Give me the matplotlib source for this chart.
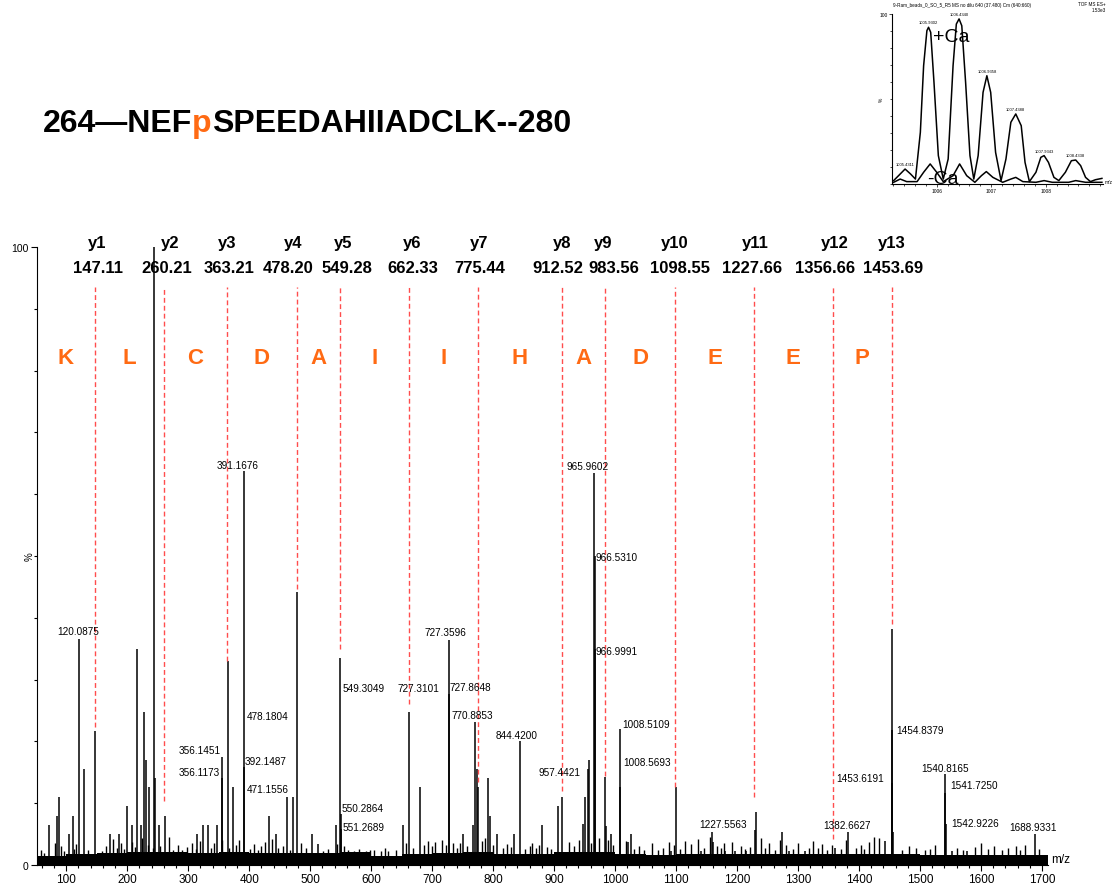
import matplotlib
matplotlib.use("Agg")
import matplotlib.pyplot as plt
from matplotlib.ticker import MultipleLocator

plt.rcParams["font.family"] = ["Liberation Sans", "DejaVu Sans"]

ORANGE = "#ff6a13"
DASH_RED = "#ff4d4d"

# peptide header, the phospho site drawn in orange
SEQ_LEFT = "264\u2014NEF"
SEQ_MOD = "p"
SEQ_RIGHT = "SPEEDAHIIADCLK--280"

# y-ion ladder
ion_names = ["y1", "y2", "y3", "y4", "y5", "y6", "y7", "y8", "y9", "y10", "y11", "y12", "y13"]
ion_mz = [147.11, 260.21, 363.21, 478.20, 549.28, 662.33, 775.44, 912.52,
          983.56, 1098.55, 1227.66, 1356.66, 1453.69]
ion_line_low = [22.3, 10.4, 33.0, 44.7, 35.0, 26.0, 13.4, 12.0, 14.4, 12.6, 11.0, 4.2, 39.0]
residues = ["K", "L", "C", "D", "A", "I", "I", "H", "A", "D", "E", "E", "P"]

# main fragment peaks (m/z, relative intensity %)
peak_mz = [72, 85, 88.5, 105, 111, 120.0875, 129.5, 138, 147.5, 172,
           187, 200, 208, 216, 223, 228, 230, 236, 244, 246,
           252, 262, 315, 325, 333, 347, 356.1173, 356.1451, 365.5, 374,
           391.1676, 392.1487, 433, 444, 462, 471.1556, 478.1804, 503, 513, 542.6,
           549.3049, 550.2864, 551.2689, 652, 662.3, 680, 727.3596, 727.8648, 751, 767,
           770.8853, 773.5, 776, 792, 795, 806.5, 834, 844.42, 880, 906.5,
           913, 947.5, 951, 955, 957.4421, 965.9602, 966.531, 966.9991, 983.6, 985,
           993, 1008.5109, 1008.5693, 1021, 1026, 1092, 1100, 1129.5, 1141, 1159,
           1161, 1180, 1197, 1215, 1229, 1231, 1274, 1285, 1311, 1361,
           1382.6627, 1442.6, 1453.6191, 1454.2, 1454.8379, 1455.8, 1533, 1540.8165, 1541.725, 1542.9226,
           1552, 1577, 1683, 1688.9331]
peak_int = [6.5, 8, 11, 5, 8, 36.6, 15.5, 1.8, 21.7, 5,
            5, 9.5, 6.5, 35, 6.5, 24.7, 17, 12.6, 100, 14,
            6.5, 8, 5, 6.5, 6.5, 6.5, 14, 17.5, 33, 12.6,
            63.8, 15.8, 8, 5, 11, 11, 44.2, 5, 3.4, 6.5,
            33.5, 8.3, 5.8, 6.5, 24.7, 12.6, 36.4, 27.7, 5, 6.5,
            23.1, 15.5, 12.6, 14, 8, 5, 5, 20, 6.5, 9.5,
            11, 6.6, 11, 15.5, 17, 63.5, 50, 35, 14.2, 6.3,
            5, 22, 12.6, 3.7, 5, 2.3, 12.6, 1, 2.3, 5.3,
            3.7, 2.3, 2.3, 2.3, 5.7, 8.5, 5.3, 2.3, 2.3, 2.8,
            5.3, 3.9, 13.3, 38.2, 21.8, 5.3, 1, 14.7, 11.6, 6.6,
            2.3, 2.3, 1, 5]

# small noise spikes above the baseline
noise_mz = [58, 63, 82, 91, 97, 112, 116, 135, 152, 158,
            165, 177, 183, 189, 195, 207, 213, 224, 234, 242,
            254, 268, 275, 284, 290, 298, 307, 313, 319, 337,
            342, 355, 367, 378, 384, 402, 408, 414, 420, 426,
            438, 447, 456, 467, 485, 493, 521, 530, 544, 556,
            562, 572, 580, 592, 598, 604, 616, 622, 627, 640,
            657, 669, 686, 693, 699, 705, 716, 722, 734, 740,
            746, 758, 781, 787, 800, 817, 823, 829, 853, 860,
            864, 870, 876, 888, 895, 924, 933, 941, 961, 973,
            988, 997, 1018, 1031, 1040, 1048, 1061, 1070, 1078, 1088,
            1097, 1107, 1115, 1124, 1136, 1146, 1155, 1167, 1173, 1179,
            1191, 1206, 1213, 1221, 1239, 1246, 1252, 1262, 1270, 1280,
            1292, 1300, 1318, 1324, 1333, 1340, 1348, 1355, 1370, 1379,
            1395, 1403, 1409, 1417, 1424, 1433, 1470, 1482, 1494, 1508,
            1516, 1524, 1560, 1570, 1590, 1600, 1612, 1621, 1635, 1645,
            1657, 1664, 1672, 1695]
noise_int = [2.4, 2.0, 3.6, 3.0, 2.2, 2.6, 3.4, 2.5, 2.0, 2.2,
             3.1, 4.2, 2.8, 3.5, 2.6, 3.8, 2.9, 4.4, 3.2, 2.7,
             3.0, 4.6, 2.5, 3.3, 2.4, 2.9, 3.6, 2.6, 3.9, 2.8,
             3.5, 4.1, 2.7, 3.2, 4.0, 2.6, 3.4, 2.5, 3.0, 3.8,
             4.2, 2.7, 3.1, 2.4, 3.6, 2.8, 2.3, 2.6, 3.4, 3.0,
             2.4, 2.2, 2.6, 2.3, 2.5, 2.4, 2.2, 2.7, 2.3, 2.5,
             3.6, 2.8, 3.3, 3.9, 3.0, 3.7, 4.0, 3.2, 3.5, 2.8,
             3.6, 3.1, 3.9, 4.3, 3.2, 2.7, 3.4, 2.9, 2.6, 3.0,
             3.5, 2.8, 3.3, 2.9, 2.6, 3.7, 3.1, 4.0, 3.6, 4.4,
             4.1, 3.3, 3.9, 2.6, 3.0, 2.5, 3.6, 2.4, 2.7, 3.8,
             3.3, 2.6, 3.9, 3.4, 4.2, 2.8, 4.6, 3.0, 2.7, 3.5,
             3.8, 3.1, 2.6, 2.9, 4.3, 2.7, 3.6, 2.5, 4.0, 3.2,
             2.6, 3.5, 2.8, 3.9, 2.7, 3.4, 2.5, 3.2, 2.6, 4.1,
             2.8, 3.3, 2.6, 3.7, 4.5, 4.4, 2.5, 3.0, 2.7, 2.4,
             2.6, 3.2, 2.7, 2.4, 2.9, 3.5, 2.6, 3.1, 2.5, 2.8,
             3.0, 2.4, 3.2, 2.6]

# baseline noise floor, level per 50 m/z bin
floor_mz = [52, 100, 150, 200, 250, 300, 350, 400, 450, 500, 550,
            600, 650, 700, 750, 800, 850, 900, 950, 1000, 1050,
            1100, 1150, 1200, 1250, 1300, 1350, 1400, 1450, 1500, 1550,
            1600, 1650, 1710]
floor_int = [1.4, 1.7, 1.9, 2.1, 2.1, 1.9, 2.1, 1.9, 2.0, 1.9, 2.1,
             1.4, 1.8, 1.9, 2.1, 1.8, 1.8, 2.1, 2.1, 1.8, 1.6,
             1.7, 1.8, 1.8, 1.8, 1.8, 1.8, 1.7, 1.8, 1.6, 1.6,
             1.6, 1.6, 1.6]

# annotated peak labels and the peak each one sits by
label_text = ["120.0875", "356.1173", "356.1451", "391.1676", "392.1487", "471.1556",
              "478.1804", "549.3049", "550.2864", "551.2689", "727.3101", "727.3596",
              "727.8648", "770.8853", "844.4200", "957.4421", "965.9602", "966.5310",
              "966.9991", "1008.5109", "1008.5693", "1227.5563", "1382.6627", "1453.6191",
              "1454.8379", "1540.8165", "1541.7250", "1542.9226", "1688.9331"]
label_at = [120.0875, 356.1173, 356.1451, 391.1676, 392.1487, 471.1556,
            478.1804, 549.3049, 550.2864, 551.2689, 662.3, 727.3596,
            727.8648, 770.8853, 844.42, 957.4421, 965.9602, 966.531,
            966.9991, 1008.5109, 1008.5693, 1159, 1382.6627, 1453.6191,
            1454.8379, 1540.8165, 1541.725, 1542.9226, 1688.9331]

# label placement: pixel offset from peak top and alignment
label_layout = {
    "120.0875": (0, 8, "center"), "356.1173": (-3, 6, "right"),
    "356.1451": (-2, 7, "right"), "391.1676": (-6, 6, "center"),
    "392.1487": (0, 6, "left"), "471.1556": (-4, 8, "right"),
    "478.1804": (-8, -124, "right"), "549.3049": (2, -30, "left"),
    "550.2864": (1, 6, "left"), "551.2689": (1, 2, "left"),
    "727.3101": (9, 24, "center"), "727.3596": (-3, 8, "center"),
    "727.8648": (0, 7, "left"), "770.8853": (-3, 7, "center"),
    "844.4200": (-4, 6, "center"), "957.4421": (-9, -12, "right"),
    "965.9602": (-7, 7, "center"), "966.5310": (1, -1, "left"),
    "966.9991": (1, -2, "left"), "1008.5109": (2, 5, "left"),
    "1008.5693": (3, 25, "left"), "1227.5563": (11, 8, "center"),
    "1382.6627": (-1, 7, "center"), "1453.6191": (-8, 5, "right"),
    "1454.8379": (4, 0, "left"), "1540.8165": (0, 6, "center"),
    "1541.7250": (5, 8, "left"), "1542.9226": (5, 1, "left"),
    "1688.9331": (-2, 7, "center"),
}
# horizontal nudges (pixels) of the ion names and masses above the plot
ion_name_dx = [2, 6, 0, -4, 3, 3, 1, 0, -2, 0, 1, 2, 0]
ion_value_dx = [3, 3, 2, -9, 7, 4, 2, -4, 9, 5, -2, -7, 1]

# inset: isotope envelope with and without calcium
ca_mz = [1005.21, 1005.30, 1005.42, 1005.52, 1005.61, 1005.70, 1005.76, 1005.82, 1005.85, 1005.89,
         1005.95, 1006.03, 1006.12, 1006.21, 1006.30, 1006.36, 1006.41, 1006.46, 1006.53, 1006.61,
         1006.68, 1006.76, 1006.85, 1006.92, 1006.99, 1007.08, 1007.18, 1007.27, 1007.36, 1007.45,
         1007.55, 1007.62, 1007.70, 1007.82, 1007.91, 1007.97, 1008.05, 1008.15, 1008.24, 1008.36,
         1008.47, 1008.55, 1008.64, 1008.73, 1008.82, 1008.91, 1009.03]
ca_int = [2.0, 4.9, 8.8, 5.9, 2.9, 30.4, 69.6, 90.2, 92.2, 89.2,
          59.8, 16.7, 2.9, 14.7, 69.6, 94.1, 97.1, 93.1, 59.8, 16.7,
          2.9, 16.7, 53.9, 63.7, 53.9, 18.6, 2.0, 14.7, 36.3, 41.2,
          34.3, 12.7, 1.4, 6.9, 15.7, 16.7, 12.7, 3.9, 2.0, 6.9,
          13.7, 14.1, 10.8, 3.9, 1.4, 2.5, 3.3]
noca_mz = [1005.21, 1005.33, 1005.45, 1005.64, 1005.76, 1005.88, 1006.00, 1006.12, 1006.30, 1006.42,
           1006.55, 1006.70, 1006.82, 1006.91, 1007.03, 1007.21, 1007.36, 1007.45, 1007.58, 1007.82,
           1007.97, 1008.12, 1008.42, 1008.55, 1008.73, 1009.03]
noca_int = [1.0, 2.9, 1.4, 1.4, 6.9, 11.8, 6.9, 1.4, 4.9, 11.8,
            4.9, 1.0, 4.9, 7.3, 3.9, 1.0, 2.9, 3.9, 1.4, 1.0,
            2.0, 1.0, 1.0, 2.0, 1.0, 1.0]
inset_label_mz = [1005.42, 1005.85, 1006.41, 1006.92, 1007.45, 1007.97, 1008.55]
inset_label_int = [8.8, 92.2, 97.1, 63.7, 41.2, 16.7, 14.1]
inset_label_text = ["1005.4311", "1005.9302", "1006.4340", "1006.9358", "1007.4388", "1007.9343", "1008.4338"]


def main():
    fig = plt.figure(figsize=(11.2, 8.95), dpi=100)

    # ---- header text with coloured phospho residue
    renderer = fig.canvas.get_renderer()
    x = 43 / 1120
    y = 1 - 132 / 895
    for part, col in [(SEQ_LEFT, "black"), (SEQ_MOD, ORANGE), (SEQ_RIGHT, "black")]:
        t = fig.text(x, y, part, fontsize=23, fontweight="bold", color=col,
                     ha="left", va="baseline")
        bb = t.get_window_extent(renderer=renderer)
        x = bb.x1 / fig.bbox.width

    # ---- main spectrum
    ax = fig.add_axes([37 / 1120, 29 / 895, 1011 / 1120, 618 / 895])
    ax.set_xlim(52, 1710)
    ax.set_ylim(0, 100)

    ax.fill_between(floor_mz, 0, floor_int, step="post", color="black", lw=0)
    ax.vlines(noise_mz, 0, noise_int, colors="black", lw=1.0)
    ax.vlines(peak_mz, 0, peak_int, colors="black", lw=1.1)

    for txt, at in zip(label_text, label_at):
        dx, dy, ha = label_layout[txt]
        top = peak_int[peak_mz.index(at)]
        ax.annotate(txt, xy=(at, top), xytext=(dx, dy), textcoords="offset pixels",
                    ha=ha, va="center", fontsize=7.2, color="black")

    # ion ladder: dashed markers, names and masses
    ax.vlines(ion_mz, ion_line_low, 93.5, colors=DASH_RED, lw=1.0,
              linestyles=(0, (3.5, 2.2)))
    xy_axes = ("data", "axes fraction")
    for name, mz, ndx, vdx in zip(ion_names, ion_mz, ion_name_dx, ion_value_dx):
        ax.annotate(name, xy=(mz, 1.008), xycoords=xy_axes, xytext=(ndx, 0),
                    textcoords="offset pixels", ha="center", va="center",
                    fontsize=12, fontweight="bold", annotation_clip=False)
        ax.annotate(f"{mz:.2f}", xy=(mz, 0.9676), xycoords=xy_axes, xytext=(vdx, 0),
                    textcoords="offset pixels", ha="center", va="center",
                    fontsize=12, fontweight="bold", annotation_clip=False)

    trans = ax.get_xaxis_transform()
    edges = [50] + ion_mz
    for i, aa in enumerate(residues):
        ax.text((edges[i] + edges[i + 1]) / 2, 0.822, aa, transform=trans,
                ha="center", va="center", fontsize=16, fontweight="bold", color=ORANGE)

    for side in ("top", "right"):
        ax.spines[side].set_visible(False)
    ax.set_xticks(range(100, 1701, 100))
    ax.xaxis.set_minor_locator(MultipleLocator(20))
    ax.set_yticks([0, 100])
    ax.yaxis.set_minor_locator(MultipleLocator(10))
    ax.tick_params(which="major", length=4, width=0.8, labelsize=8.5, pad=2)
    ax.tick_params(which="minor", length=2.5, width=0.8)
    ax.tick_params(axis="y", labelsize=7.5)
    ax.annotate("%", xy=(0, 50), xycoords=("axes fraction", "data"),
                xytext=(-7, 0), textcoords="offset pixels", rotation=90,
                ha="center", va="center", fontsize=7)
    ax.text(1.003, 0.0, "m/z", transform=ax.transAxes, ha="left", va="bottom", fontsize=8.5)

    # ---- inset
    ins = fig.add_axes([892 / 1120, 1 - 185 / 895, 211 / 1120, 170 / 895])
    ins.plot(ca_mz, ca_int, color="black", lw=1.1)
    ins.plot(noca_mz, noca_int, color="black", lw=1.1)
    ins.set_xlim(1005.18, 1009.05)
    ins.set_ylim(0, 100)
    for side in ("top", "right"):
        ins.spines[side].set_visible(False)
    ins.spines["left"].set_linewidth(0.8)
    ins.spines["bottom"].set_linewidth(0.8)
    ins.set_xticks([1006, 1007, 1008])
    ins.xaxis.set_minor_locator(MultipleLocator(0.2))
    ins.set_yticks([100])
    ins.yaxis.set_minor_locator(MultipleLocator(10))
    ins.tick_params(which="major", length=2, width=0.5, labelsize=3.5, pad=1)
    ins.tick_params(which="minor", length=1.2, width=0.5)
    ins.text(-0.05, 0.5, "%", transform=ins.transAxes, rotation=90, fontsize=3.5,
             ha="center", va="center")
    ins.text(1.01, 0.0, "m/z", transform=ins.transAxes, fontsize=3.5, ha="left", va="bottom")
    for txt, mz, it in zip(inset_label_text, inset_label_mz, inset_label_int):
        ins.annotate(txt, xy=(mz, it), xytext=(0, 3), textcoords="offset pixels",
                     ha="center", va="bottom", fontsize=3)
    ins.text(0.194, 0.865, "+Ca", transform=ins.transAxes, fontsize=14, ha="left", va="center")
    ins.text(0.166, 0.03, "-Ca", transform=ins.transAxes, fontsize=14, ha="left", va="center")

    fig.text(893 / 1120, 1 - 5 / 895, "9-Ram_beads_0_SO_5_R5 MS no dilu 640 (37.480) Cm (640:660)",
             fontsize=3.3, ha="left", va="center")
    fig.text(1106 / 1120, 1 - 5 / 895, "TOF MS ES+", fontsize=3.3, ha="right", va="center")
    fig.text(1106 / 1120, 1 - 11 / 895, "1.53e3", fontsize=3.3, ha="right", va="center")

    fig.savefig("out.png", dpi=100)


if __name__ == "__main__":
    main()
